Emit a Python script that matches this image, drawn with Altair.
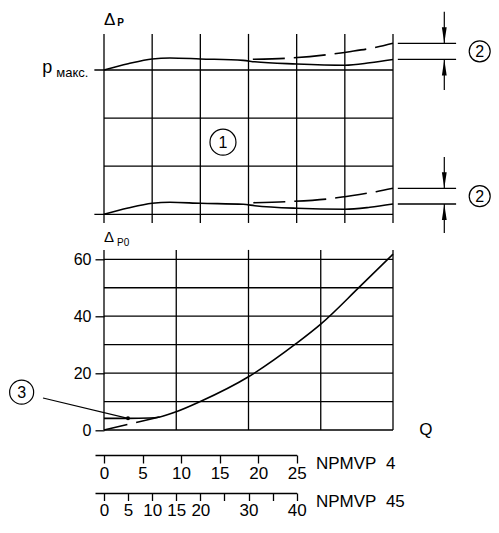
import json
import altair as alt
import pandas as pd

FONT = "Liberation Sans"
INK = "black"
LW = 1.3      # grid line width
CW = 1.6      # curve line width

# ---------------- data ----------------
# Q in NPMVP 45 units (top grid every 10, bottom grid every 15)
# top panel: Δp in grid units, bottom reference line = 0, p_max line = 3
TOP_VLINES_Q = [0, 10, 20, 30, 40, 50, 60]
TOP_VLINE_G = [-0.18, 3.75]
TOP_HLINES_G = [0, 1, 2, 3]
TOP_HLINES_Q0 = [-2.0, 0, 0, -2.0]

UP_SOLID_Q = [0, 5, 10, 13.7, 20, 28.9, 31.3, 40, 50, 55.2, 60]
UP_SOLID_G = [3.0, 3.13, 3.23, 3.25, 3.23, 3.20, 3.17, 3.125, 3.10, 3.15, 3.22]
UP_DASH_Q = [30.9, 37.6, 46.3, 51.3, 56.5, 60]
UP_DASH_G = [3.222, 3.243, 3.318, 3.385, 3.472, 3.555]

LO_SOLID_Q = [0, 5, 10, 13.7, 20, 28.9, 31.3, 40, 50, 55.2, 60]
LO_SOLID_G = [0.0, 0.13, 0.229, 0.25, 0.229, 0.208, 0.179, 0.125, 0.104, 0.146, 0.214]
LO_DASH_Q = [31.0, 37.6, 46.3, 51.3, 56.5, 60]
LO_DASH_G = [0.241, 0.262, 0.318, 0.385, 0.47, 0.54]

# bottom panel: Δp0 over Q
BOT_VLINES_Q = [0, 15, 30, 45, 60]
BOT_VLINE_V = [0, 63.3]
BOT_HLINES_V = [0, 10, 20, 30, 40, 50, 60]
DP0_TICKS = [0, 20, 40, 60]

DP0_SOLID_Q = [0, 5, 9.5, 11.6, 15, 20, 30, 40, 45, 53, 60]
DP0_SOLID_V = [4.1, 4.1, 4.2, 4.6, 6.4, 10.0, 18.7, 30.5, 37.2, 50.2, 61.8]
DP0_DASH_Q = [0, 11.6]
DP0_DASH_V = [0, 4.6]

# secondary flow scales
NPMVP4_TICKS = [0, 5, 10, 15, 20, 25]
NPMVP45_TICKS = [0, 5, 10, 15, 20, 25, 30, 35, 40]
NPMVP45_LABELS = [0, 5, 10, 15, 20, 30, 40]

# ---------------- layout (page px) ----------------
PX0, PX1 = 104, 393          # plot area left/right
PY0, PY1 = 259.3, 430        # plot area top/bottom (bottom panel)
W, H = PX1 - PX0, PY1 - PY0
SVG_RIGHT, SVG_BOTTOM = 491, 519
TOP_G0_PY, TOP_G3_PY = 214.3, 70
TOP_RANGE = [TOP_G0_PY - PY0, TOP_G3_PY - PY0]
AX_EXT = 9                   # scale lines start 9px left of 0
AX1_PY, AX2_PY = 455, 493


def sc(domain, rng=None):
    kw = dict(domain=domain, nice=False, zero=False)
    if rng is not None:
        kw["range"] = rng
    return alt.Scale(**kw)


def QX(f):
    return alt.X(f, type="quantitative", scale=sc([0, 60]), axis=None)


def TY(f):
    return alt.Y(f, type="quantitative", scale=sc([0, 3], TOP_RANGE), axis=None)


def BY(f, axis=None):
    return alt.Y(f, type="quantitative", scale=sc([0, 60]), axis=axis)


layers = []

# ----- top panel grid -----
df = pd.DataFrame({"q": TOP_VLINES_Q, "g0": TOP_VLINE_G[0], "g1": TOP_VLINE_G[1]})
layers.append(alt.Chart(df).mark_rule(color=INK, strokeWidth=LW).encode(
    x=QX("q"), y=TY("g0"), y2=alt.Y2("g1")))
df = pd.DataFrame({"g": TOP_HLINES_G, "q0": TOP_HLINES_Q0, "q1": 60})
layers.append(alt.Chart(df).mark_rule(color=INK, strokeWidth=LW).encode(
    x=QX("q0"), x2=alt.X2("q1"), y=TY("g")))

# ----- top panel curves -----
for qs, gs, dash in [(UP_SOLID_Q, UP_SOLID_G, None), (LO_SOLID_Q, LO_SOLID_G, None),
                     (UP_DASH_Q, UP_DASH_G, [32, 9]), (LO_DASH_Q, LO_DASH_G, [32, 9])]:
    kw = dict(color=INK, strokeWidth=CW, interpolate="monotone")
    if dash:
        kw["strokeDash"] = dash
    layers.append(alt.Chart(pd.DataFrame({"q": qs, "g": gs})).mark_line(**kw).encode(
        x=QX("q"), y=TY("g")))

# ----- tolerance dimension marks (2) -----
ends = [UP_DASH_G[-1], UP_SOLID_G[-1], LO_DASH_G[-1], LO_SOLID_G[-1]]
df = pd.DataFrame({"g": ends, "q0": 61.0, "q1": 73.1})
layers.append(alt.Chart(df).mark_rule(color=INK, strokeWidth=LW).encode(
    x=QX("q0"), x2=alt.X2("q1"), y=TY("g")))
ARROW_Q = 70.65
shafts = pd.DataFrame({
    "q": ARROW_Q,
    "g0": [4.21, UP_SOLID_G[-1], 1.19, LO_SOLID_G[-1]],
    "g1": [UP_DASH_G[-1], 2.584, LO_DASH_G[-1], -0.389]})
layers.append(alt.Chart(shafts).mark_rule(color=INK, strokeWidth=1.2).encode(
    x=QX("q"), y=TY("g0"), y2=alt.Y2("g1")))
DOWN = "M0,0L-0.15,-1L0.15,-1Z"
UP = "M0,0L-0.15,1L0.15,1Z"
layers.append(alt.Chart(pd.DataFrame({"q": ARROW_Q, "g": [UP_DASH_G[-1], LO_DASH_G[-1]]}))
              .mark_point(shape=DOWN, size=1024, filled=True, color=INK, opacity=1, strokeWidth=0)
              .encode(x=QX("q"), y=TY("g")))
layers.append(alt.Chart(pd.DataFrame({"q": ARROW_Q, "g": [UP_SOLID_G[-1], LO_SOLID_G[-1]]}))
              .mark_point(shape=UP, size=1024, filled=True, color=INK, opacity=1, strokeWidth=0)
              .encode(x=QX("q"), y=TY("g")))

# ----- callout circles in top panel -----
top_marks = pd.DataFrame({
    "q": [24.7, 78.0, 78.0],
    "g": [1.5, (UP_DASH_G[-1] + UP_SOLID_G[-1]) / 2, (LO_DASH_G[-1] + LO_SOLID_G[-1]) / 2],
    "r": [13, 10.5, 10.5],
    "t": ["1", "2", "2"]})
top_marks["s"] = (2 * top_marks["r"]) ** 2
layers.append(alt.Chart(top_marks).mark_point(shape="circle", filled=False, color=INK,
                                              opacity=1, strokeWidth=1.2).encode(
    x=QX("q"), y=TY("g"), size=alt.Size("s:Q", scale=None, legend=None)))
layers.append(alt.Chart(top_marks).mark_text(font=FONT, fontSize=16, color=INK,
                                             align="center", baseline="middle", dy=1).encode(
    x=QX("q"), y=TY("g"), text="t:N"))

# ----- top labels -----
top_labels = pd.DataFrame({
    "q": [0, 2.76, -12.8, -9.9],
    "g": [3.936, 3.921, 2.938, 2.854],
    "t": ["Δ", "P", "p", "макс."],
    "fs": [17, 10, 18, 13],
    "fw": ["normal", "bold", "normal", "normal"]})
for _, row in top_labels.iterrows():
    layers.append(alt.Chart(pd.DataFrame([row])).mark_text(
        font=FONT, fontSize=float(row.fs), fontWeight=row.fw, color=INK,
        align="left", baseline="alphabetic").encode(x=QX("q"), y=TY("g"), text="t:N"))

# ----- bottom panel grid with Δp0 axis -----
dp0_axis = alt.Axis(orient="left", values=DP0_TICKS, domain=False, grid=False, ticks=True,
                    tickSize=9, tickColor=INK, tickWidth=LW, labelFont=FONT, labelFontSize=16,
                    labelColor=INK, labelPadding=4, title=None, format="d")
df = pd.DataFrame({"v": BOT_HLINES_V, "q0": 0, "q1": 60})
layers.append(alt.Chart(df).mark_rule(color=INK, strokeWidth=LW).encode(
    x=QX("q0"), x2=alt.X2("q1"), y=BY("v", dp0_axis)))
df = pd.DataFrame({"q": BOT_VLINES_Q, "v0": BOT_VLINE_V[0], "v1": BOT_VLINE_V[1]})
layers.append(alt.Chart(df).mark_rule(color=INK, strokeWidth=LW).encode(
    x=QX("q"), y=BY("v0"), y2=alt.Y2("v1")))

# ----- Δp0 curve -----
layers.append(alt.Chart(pd.DataFrame({"q": DP0_SOLID_Q, "v": DP0_SOLID_V})).mark_line(
    color=INK, strokeWidth=CW, interpolate="monotone").encode(x=QX("q"), y=BY("v")))
layers.append(alt.Chart(pd.DataFrame({"q": DP0_DASH_Q, "v": DP0_DASH_V})).mark_line(
    color=INK, strokeWidth=CW, strokeDash=[24, 9]).encode(x=QX("q"), y=BY("v")))

# ----- callout 3 -----
c3 = pd.DataFrame({"q": [-17.1], "v": [13.3], "t": ["3"]})
layers.append(alt.Chart(c3).mark_point(shape="circle", filled=False, color=INK, opacity=1,
                                       strokeWidth=1.2, size=576).encode(x=QX("q"), y=BY("v")))
layers.append(alt.Chart(c3).mark_text(font=FONT, fontSize=16, color=INK, align="center",
                                      baseline="middle", dy=1).encode(x=QX("q"), y=BY("v"), text="t:N"))
leader = pd.DataFrame({"q0": [-12.66], "v0": [11.25], "q1": [4.98], "v1": [4.11]})
layers.append(alt.Chart(leader).mark_rule(color=INK, strokeWidth=1.2).encode(
    x=QX("q0"), x2=alt.X2("q1"), y=BY("v0"), y2=alt.Y2("v1")))
layers.append(alt.Chart(leader).mark_point(shape="circle", filled=True, color=INK, opacity=1,
                                           size=16).encode(x=QX("q1"), y=BY("v1")))

# ----- bottom labels -----
bot_labels = pd.DataFrame({
    "q": [0, 2.7, 66.8],
    "v": [66.1, 64.7, 0],
    "t": ["Δ", "P0", "Q"],
    "fs": [15, 10, 17],
    "bl": ["alphabetic", "alphabetic", "middle"],
    "al": ["left", "left", "center"]})
for _, row in bot_labels.iterrows():
    layers.append(alt.Chart(pd.DataFrame([row])).mark_text(
        font=FONT, fontSize=float(row.fs), color=INK, align=row.al, baseline=row.bl).encode(
        x=QX("q"), y=BY("v"), text="t:N"))

# ----- NPMVP flow scales as real axes -----
def flow_axis(ticks, maxv, axis_py, title, labels=None, tick_size=8, pad=2):
    px_per = (W * 40 / 60) / maxv
    dom = [-AX_EXT / px_per, maxv]
    rng = [-AX_EXT, W * 40 / 60]
    ax_kw = dict(orient="bottom", offset=axis_py - PY1, values=ticks, domain=True,
                 domainColor=INK, domainWidth=LW, ticks=True, tickColor=INK, tickWidth=LW,
                 tickSize=tick_size, labelFont=FONT, labelFontSize=17, labelColor=INK,
                 labelPadding=pad, labelFlush=False, labelOverlap=False, grid=False, format="d",
                 title=title, titleFont=FONT, titleFontSize=17, titleFontWeight="normal",
                 titleColor=INK, titleAngle=0, titleAlign="left", titleBaseline="middle",
                 titleX=211.5, titleY=8)
    if labels is not None:
        ax_kw["labelExpr"] = f"indexof({json.dumps(labels)}, datum.value) >= 0 ? datum.label : ''"
    return alt.Chart(pd.DataFrame({"n": ticks})).mark_point(opacity=0).encode(
        x=alt.X("n:Q", scale=sc(dom, rng), axis=alt.Axis(**ax_kw)))

layers.append(flow_axis(NPMVP4_TICKS, 25, AX1_PY, "NPMVP\u00a0\u00a04"))
layers.append(flow_axis(NPMVP45_TICKS, 40, AX2_PY, "NPMVP\u00a0\u00a045",
                        labels=NPMVP45_LABELS, tick_size=7.5, pad=1.5))

chart = alt.layer(*layers).resolve_scale(x="independent", y="independent").properties(
    width=W, height=H,
    autosize=alt.AutoSizeParams(type="none"),
    padding={"left": PX0 - 8, "top": PY0 - 8, "right": SVG_RIGHT - PX1,
             "bottom": SVG_BOTTOM - PY1},
).configure_view(stroke=None)

chart.save("out.html", embed_options={"renderer": "svg", "actions": False})
